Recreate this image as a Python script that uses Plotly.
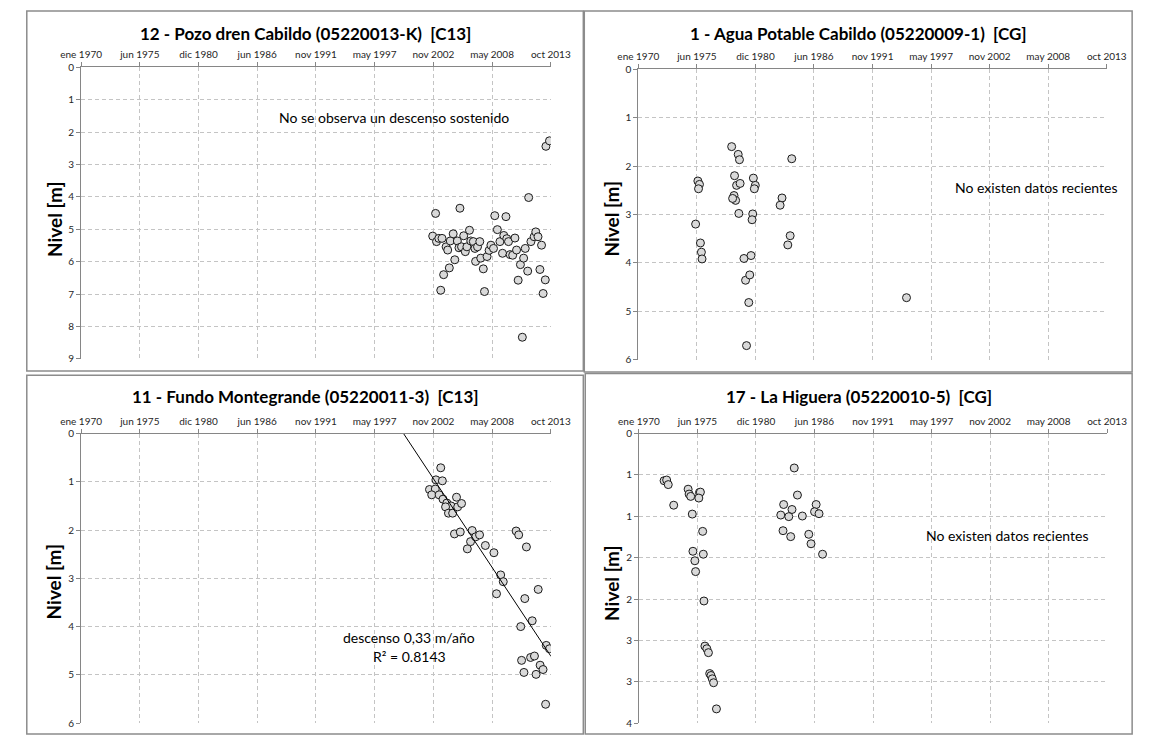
import plotly.graph_objects as go
import pandas as pd

# ---------------- data ----------------
x_tick_labels = ["ene 1970", "jun 1975", "dic 1980", "jun 1986", "nov 1991",
                 "may 1997", "nov 2002", "may 2008", "oct 2013"]
x_tick_step_days = 2000

titles = ["12 - Pozo dren Cabildo (05220013-K)  [C13]",
          "1 - Agua Potable Cabildo (05220009-1)  [CG]",
          "11 - Fundo Montegrande (05220011-3)  [C13]",
          "17 - La Higuera (05220010-5)  [CG]"]

# Panel 1: 12 - Pozo dren Cabildo (decimal year, level m)
p1_years = [2002.79, 2003.06, 2003.15, 2003.36, 2003.54, 2003.66, 2003.81, 2004.04, 2004.19, 2004.34,
            2004.43, 2004.70, 2004.85, 2005.09, 2005.24, 2005.33, 2005.48, 2005.68, 2005.83, 2005.98,
            2006.22, 2006.34, 2006.58, 2006.73, 2006.79, 2006.97, 2007.18, 2007.27, 2007.51, 2007.62,
            2007.86, 2008.05, 2008.22, 2008.46, 2008.58, 2008.82, 2009.06, 2009.30, 2009.42, 2009.62,
            2009.70, 2009.86, 2010.01, 2010.25, 2010.46, 2010.61, 2010.76, 2010.97, 2011.15, 2011.27,
            2011.42, 2011.65, 2011.74, 2011.95, 2012.25, 2012.40, 2012.61, 2012.79, 2012.94, 2013.09,
            2013.29, 2013.35, 2013.68]
p1_levels = [5.21, 4.51, 5.38, 5.28, 6.88, 5.28, 6.40, 5.54, 5.64, 6.19,
             5.36, 5.14, 5.94, 5.36, 5.57, 4.35, 5.54, 5.20, 5.69, 5.54,
             5.03, 5.36, 5.38, 5.59, 5.99, 5.54, 5.38, 5.89, 6.22, 6.92,
             5.84, 5.65, 5.49, 5.59, 4.58, 5.01, 5.38, 5.74, 5.19, 4.61,
             5.29, 5.38, 5.78, 5.80, 5.27, 5.64, 6.57, 6.09, 8.33, 5.89,
             5.59, 6.29, 4.02, 5.38, 5.23, 5.08, 5.23, 6.24, 5.49, 6.98,
             6.56, 2.44, 2.27]

# Panel 2: 1 - Agua Potable Cabildo
p2_years = [1975.36, 1975.57, 1975.72, 1975.63, 1975.81, 1975.90, 1975.96, 1978.73, 1979.34, 1979.46,
            1979.00, 1979.19, 1979.52, 1978.95, 1979.10, 1978.82, 1979.40, 1979.88, 1980.03, 1980.42,
            1980.54, 1980.33, 1980.12, 1980.76, 1980.94, 1980.85, 1980.70, 1980.64, 1983.44, 1983.26,
            1984.35, 1984.20, 1983.98, 1995.08]
p2_levels = [3.20, 2.31, 2.38, 2.47, 3.59, 3.78, 3.92, 1.60, 1.76, 1.87,
             2.20, 2.40, 2.36, 2.61, 2.71, 2.67, 2.98, 3.91, 4.36, 4.25,
             3.85, 4.82, 5.71, 2.25, 2.40, 2.47, 2.99, 3.11, 2.66, 2.81,
             1.85, 3.44, 3.63, 4.72]

# Panel 3: 11 - Fundo Montegrande
p3_years = [2003.54, 2003.09, 2003.69, 2002.49, 2003.03, 2002.70, 2003.39, 2003.75, 2004.11, 2004.50,
            2003.99, 2004.26, 2004.65, 2005.01, 2005.12, 2005.48, 2004.82, 2005.36, 2006.02, 2006.32,
            2006.47, 2006.80, 2007.16, 2007.70, 2008.50, 2009.13, 2009.37, 2008.74, 2010.57, 2010.81,
            2011.53, 2012.63, 2011.38, 2012.07, 2011.00, 2011.08, 2011.30, 2011.92, 2012.28, 2012.43,
            2012.81, 2013.08, 2013.38, 2013.68, 2013.32]
p3_levels = [0.71, 0.96, 0.98, 1.16, 1.15, 1.27, 1.27, 1.36, 1.44, 1.50,
             1.52, 1.65, 1.65, 1.32, 1.52, 1.45, 2.08, 2.04, 2.39, 2.24,
             2.01, 2.14, 2.10, 2.32, 2.47, 2.93, 3.07, 3.32, 2.02, 2.10,
             2.35, 3.23, 3.42, 3.88, 4.00, 4.70, 4.95, 4.64, 4.61, 4.99,
             4.80, 4.89, 4.39, 4.46, 5.61]
p3_trend_years = [2000.07, 2013.83]
p3_trend_levels = [0.0, 4.62]

# Panel 4: 17 - La Higuera
p4_years = [1972.35, 1972.59, 1972.74, 1973.25, 1974.60, 1974.69, 1974.84, 1975.66, 1975.75, 1975.60,
            1974.99, 1975.96, 1975.05, 1975.23, 1975.30, 1976.02, 1976.08, 1976.17, 1976.35, 1976.50,
            1976.62, 1976.74, 1976.86, 1976.98, 1977.25, 1984.53, 1984.83, 1983.54, 1984.32, 1983.27,
            1984.02, 1985.29, 1983.48, 1984.20, 1985.89, 1986.10, 1986.58, 1986.43, 1986.85, 1987.18]
p4_levels = [0.626, 0.617, 0.678, 0.952, 0.739, 0.804, 0.835, 0.783, 0.778, 0.857,
             1.070, 1.300, 1.565, 1.691, 1.835, 1.604, 2.226, 2.826, 2.861, 2.913,
             3.191, 3.217, 3.261, 3.313, 3.661, 0.457, 0.817, 0.943, 1.009, 1.083,
             1.104, 1.096, 1.291, 1.370, 1.339, 1.465, 0.943, 1.039, 1.065, 1.604]
p4_tick_vals = [0, 0.55, 1.1, 1.65, 2.2, 2.75, 3.3, 3.85]
p4_tick_text = ["0", "1", "1", "2", "2", "3", "3", "4"]

notes = ["No se observa un descenso sostenido", "No existen datos recientes",
         "descenso 0,33 m/año", "R² = 0.8143", "No existen datos recientes"]

# ---------------- helpers ----------------
BASE = pd.Timestamp("1970-01-01")


def to_dates(years):
    return [BASE + pd.Timedelta(days=(y - 1970) * 365.25) for y in years]


tick_dates = [BASE + pd.Timedelta(days=x_tick_step_days * i) for i in range(len(x_tick_labels))]

W, H = 1156, 735
FONT = "Lato"
GRID = "#C4C4C4"
AXIS = "#868686"


def px(x):
    return x / W


def py(y):
    return 1 - y / H


fig = go.Figure()

# domains in pixels: (x0, x1, ytop, ybottom)
doms = [
    (62.3, 549.3, 61.3, 358.3),
    (640.0, 1125.7, 63.3, 359.0),
    (62.3, 549.3, 434.2, 729.0),
    (640.7, 1126.0, 434.3, 729.0),
]
yranges = [[9, 0], [6, 0], [6, 0], [3.85, 0]]

series = [(p1_years, p1_levels), (p2_years, p2_levels), (p3_years, p3_levels), (p4_years, p4_levels)]

for i, (yrs, lv) in enumerate(series):
    n = i + 1
    xa = "x" if n == 1 else f"x{n}"
    ya = "y" if n == 1 else f"y{n}"
    fig.add_trace(go.Scatter(
        x=to_dates(yrs), y=lv, mode="markers", xaxis=xa, yaxis=ya,
        marker=dict(symbol="circle", size=8, color="#D9D9D9",
                    line=dict(color="#1A1A1A", width=1)),
        showlegend=False, hoverinfo="x+y"))

fig.add_trace(go.Scatter(
    x=to_dates(p3_trend_years), y=p3_trend_levels, mode="lines", xaxis="x3", yaxis="y3",
    line=dict(color="#000000", width=1), showlegend=False, hoverinfo="skip"))

layout = dict(width=W, height=H, margin=dict(l=0, r=0, t=0, b=0),
              paper_bgcolor="white", plot_bgcolor="white",
              font=dict(family=FONT, color="#262626"))

for i, (x0, x1, yt, yb) in enumerate(doms):
    n = i + 1
    xk = "xaxis" if n == 1 else f"xaxis{n}"
    yk = "yaxis" if n == 1 else f"yaxis{n}"
    ya = "y" if n == 1 else f"y{n}"
    xa = "x" if n == 1 else f"x{n}"
    layout[xk] = dict(
        domain=[px(x0), px(x1)], anchor=ya, side="top", type="date",
        range=[tick_dates[0], tick_dates[-1]],
        tickmode="array", tickvals=tick_dates, ticktext=x_tick_labels,
        tickfont=dict(size=10, family=FONT, color="#262626"),
        showgrid=True, gridcolor=GRID, griddash="4px,3px", gridwidth=1,
        showline=True, linecolor=AXIS, linewidth=1,
        ticks="outside", ticklen=4, tickcolor=AXIS, zeroline=False, fixedrange=True)
    ydict = dict(
        domain=[py(yb), py(yt)], anchor=xa, range=yranges[i],
        tickfont=dict(size=10, family=FONT, color="#262626"),
        showgrid=True, gridcolor=GRID, griddash="4px,3px", gridwidth=1,
        showline=True, linecolor=AXIS, linewidth=1,
        ticks="outside", ticklen=4, tickcolor=AXIS, zeroline=False, fixedrange=True)
    if n == 4:
        ydict.update(tickmode="array", tickvals=p4_tick_vals, ticktext=p4_tick_text)
    else:
        ydict.update(tickmode="linear", tick0=0, dtick=1)
    layout[yk] = ydict

annotations = []
# titles
title_pos = [(294.5, 27), (868, 27), (294.5, 397), (868.5, 397)]
for t, (x, y) in zip(titles, title_pos):
    annotations.append(dict(text=f"<b>{t}</b>", x=px(x), y=py(y), xref="paper", yref="paper",
                            showarrow=False, xanchor="center", yanchor="middle",
                            font=dict(size=17, family=FONT, color="#000000")))
# y titles
ytitle_pos = [(34, 216), (612, 216), (34, 585), (612, 587)]
for (x, y) in ytitle_pos:
    annotations.append(dict(text="<b>Nivel [m]</b>", x=px(x), y=py(y), xref="paper", yref="paper",
                            showarrow=False, textangle=-90, xanchor="center", yanchor="middle",
                            font=dict(size=19, family=FONT, color="#000000")))
# notes
note_pos = [("x", "y", 1999.19, 1.54), ("x2", "y2", 2007.24, 2.44),
            ("x3", "y3", 2000.62, 4.23), ("x3", "y3", 2000.60, 4.62),
            ("x4", "y4", 2004.52, 1.36)]
for txt, (xr, yr, xv, yv) in zip(notes, note_pos):
    annotations.append(dict(text=txt, x=to_dates([xv])[0], y=yv, xref=xr, yref=yr,
                            showarrow=False, xanchor="center", yanchor="middle",
                            font=dict(size=14, family=FONT, color="#000000")))
layout["annotations"] = annotations

# panel borders
borders = [(6, 583, 4, 370.5), (584, 1152, 4, 371.5), (6, 583, 375, 740), (585, 1152, 373, 740)]
layout["shapes"] = [dict(type="rect", xref="paper", yref="paper",
                         x0=px(a), x1=px(b), y0=py(d), y1=py(c),
                         line=dict(color="#8C8C8C", width=1.5), fillcolor="rgba(0,0,0,0)", layer="below")
                    for (a, b, c, d) in borders]

fig.update_layout(**layout)
fig.write_html("out.html",
               config={"displayModeBar": False, "staticPlot": True},
               post_script="document.body.style.margin='0';document.body.style.overflow='hidden';")
